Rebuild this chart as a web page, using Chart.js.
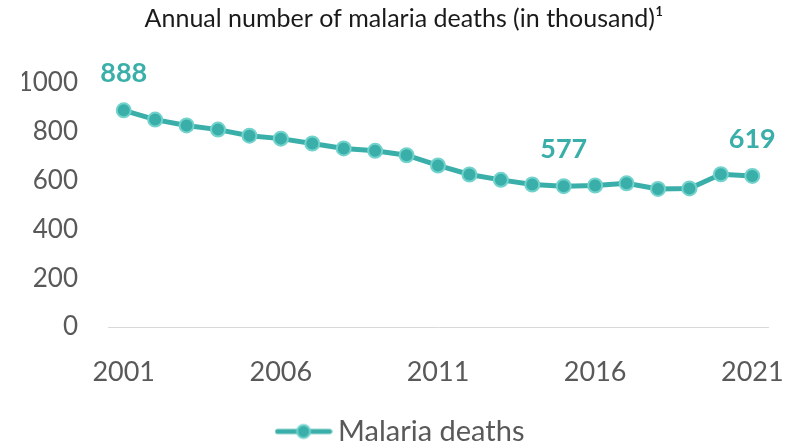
<!DOCTYPE html>
<html>
<head>
<meta charset="utf-8">
<script src="https://cdn.jsdelivr.net/npm/chart.js@4/dist/chart.umd.min.js"></script>
<style>
  html, body { margin: 0; padding: 0; background: #fff; overflow: hidden; }
  #wrap { width: 786px; height: 456px; position: relative; }
</style>
</head>
<body>
<div id="wrap"><canvas id="c"></canvas></div>
<script>
// data (thousand deaths)
const years = [2001, 2002, 2003, 2004, 2005, 2006, 2007, 2008, 2009, 2010,
               2011, 2012, 2013, 2014, 2015, 2016, 2017, 2018, 2019, 2020, 2021];
const deaths = [888, 850, 826, 809, 784, 772, 752, 732, 722, 704,
                662, 625, 603, 584, 577, 580, 589, 566, 568, 626, 619];
const labelledIdx = [0, 14, 20];
const yTicks = [0, 200, 400, 600, 800, 1000];

const TEAL = "#3AAFA9";
const TEAL_LIGHT = "#72D2CC";
const AXIS = "#595959";
const FONT = "Lato, 'Open Sans', sans-serif";

// legend icon: line with a dot in the middle
function legendIcon() {
  const cv = document.createElement("canvas");
  cv.width = 58; cv.height = 18;
  const g = cv.getContext("2d");
  g.strokeStyle = TEAL; g.lineWidth = 5; g.lineCap = "round";
  g.beginPath(); g.moveTo(3, 9); g.lineTo(55, 9); g.stroke();
  g.beginPath(); g.arc(29, 9, 6.5, 0, Math.PI * 2);
  g.fillStyle = TEAL; g.fill();
  g.lineWidth = 2; g.strokeStyle = TEAL_LIGHT; g.stroke();
  return cv;
}

const valueLabels = {
  id: "valueLabels",
  afterDatasetsDraw(chart) {
    const ctx = chart.ctx;
    const meta = chart.getDatasetMeta(0);
    ctx.save();
    ctx.font = "bold 27px " + FONT;
    ctx.fillStyle = TEAL;
    ctx.textAlign = "center";
    ctx.textBaseline = "middle";
    labelledIdx.forEach((i) => {
      const el = meta.data[i];
      ctx.fillText(String(deaths[i]), el.x, el.y - 37);
    });
    ctx.restore();
  },
};

new Chart(document.getElementById("c"), {
  type: "line",
  data: {
    labels: years,
    datasets: [{
      label: "Malaria deaths",
      data: deaths,
      borderColor: TEAL,
      backgroundColor: TEAL,
      borderWidth: 5,
      pointRadius: 7,
      pointHoverRadius: 7,
      pointBackgroundColor: TEAL,
      pointBorderColor: TEAL_LIGHT,
      pointBorderWidth: 2,
      tension: 0,
    }],
  },
  options: {
    responsive: true,
    maintainAspectRatio: false,
    animation: false,
    layout: { padding: { left: 22, right: 0, top: 0, bottom: 0 } },
    plugins: {
      title: {
        display: true,
        text: "Annual number of malaria deaths (in thousand)¹",
        color: "#1a1a1a",
        font: { family: FONT, size: 25, weight: "normal" },
        padding: { top: 4, bottom: 49 },
      },
      legend: {
        position: "bottom",
        labels: {
          usePointStyle: true,
          pointStyleWidth: 40,
          generateLabels: (chart) => [{
            text: chart.data.datasets[0].label,
            pointStyle: legendIcon(),
            fontColor: AXIS,
            datasetIndex: 0,
            hidden: false,
            lineWidth: 0,
          }],
          color: AXIS,
          font: { family: FONT, size: 29 },
          padding: 6,
        },
      },
      tooltip: { enabled: false },
    },
    scales: {
      x: {
        offset: true,
        grid: { display: false, drawTicks: false },
        border: { display: true, color: "#D9D9D9", width: 1 },
        ticks: {
          autoSkip: false,
          maxRotation: 0,
          color: AXIS,
          font: { family: FONT, size: 27 },
          padding: 29,
          callback: (v, i) => (i % 5 === 0 ? years[i] : ""),
        },
        afterFit: (axis) => {
          axis.height = 84;
          axis.paddingLeft = 0;
          axis.paddingRight = 0;
        },
      },
      y: {
        min: 0,
        max: 1000,
        afterBuildTicks: (axis) => { axis.ticks = yTicks.map((v) => ({ value: v })); },
        grid: { display: false, drawTicks: false },
        border: { display: false },
        ticks: {
          color: AXIS,
          font: { family: FONT, size: 26 },
          padding: 30,
          callback: (v) => String(v),
        },
        afterFit: (axis) => { axis.width = 86; },
      },
      yr: {
        position: "right",
        display: true,
        grid: { display: false, drawTicks: false },
        border: { display: false },
        ticks: { display: false },
        afterFit: (axis) => { axis.width = 18; },
      },
    },
  },
  plugins: [valueLabels],
});
</script>
</body>
</html>
